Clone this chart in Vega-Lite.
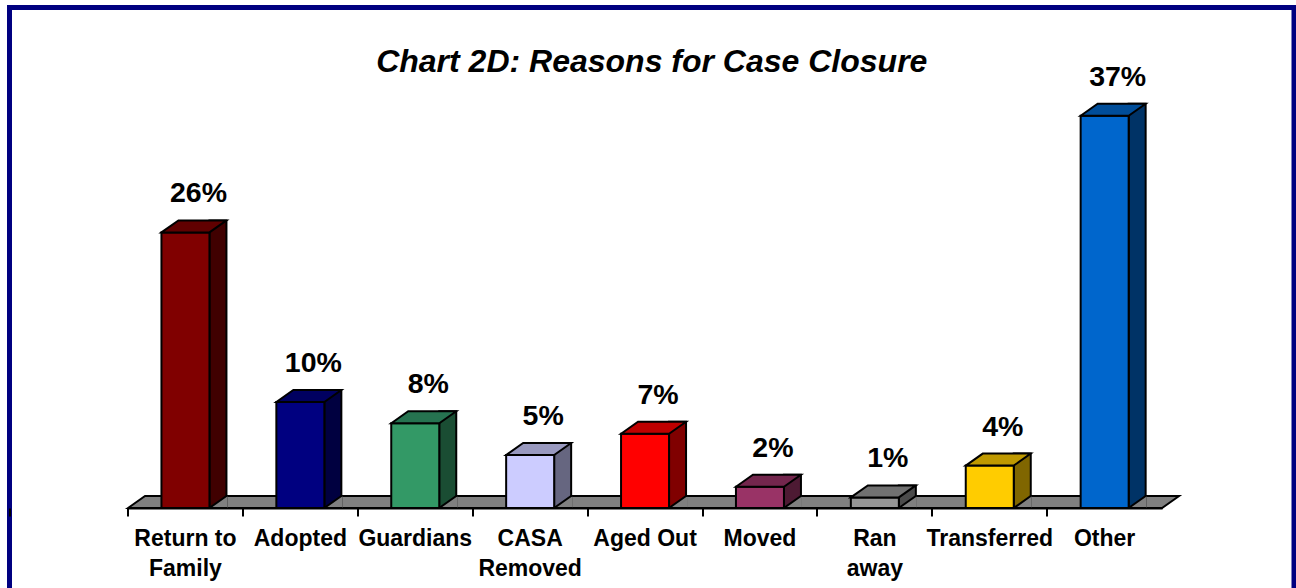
{
  "$schema": "https://vega.github.io/schema/vega-lite/v6.json",
  "width": 1284.5,
  "height": 580.5,
  "autosize": {"type": "none"},
  "padding": {"left": 9.5, "top": 7.5, "right": 2, "bottom": 0},
  "background": "white",
  "config": {
    "view": {"stroke": "#000080", "strokeWidth": 5, "strokeDash": [1865, 1284.5, 620, 0]}
  },
  "title": {
    "text": "Chart 2D: Reasons for Case Closure",
    "font": "Liberation Sans",
    "fontSize": 32,
    "fontStyle": "italic",
    "fontWeight": "bold",
    "color": "black",
    "anchor": "middle",
    "frame": "group",
    "baseline": "alphabetic",
    "offset": -96.5
  },
  "data": {
    "values": [
      {"reason": "Return to Family", "pct": 0.26},
      {"reason": "Adopted", "pct": 0.10},
      {"reason": "Guardians", "pct": 0.08},
      {"reason": "CASA Removed", "pct": 0.05},
      {"reason": "Aged Out", "pct": 0.07},
      {"reason": "Moved", "pct": 0.02},
      {"reason": "Ran away", "pct": 0.01},
      {"reason": "Transferred", "pct": 0.04},
      {"reason": "Other", "pct": 0.37}
    ]
  },
  "layer": [
    {
      "transform": [{"filter": "datum.reason == 'Aged Out'"}],
      "mark": {"type": "point", "shape": "M -517 0 L -500 -12 L 534 -12 L 517 0 Z", "size": 4, "filled": true, "fill": "#808080", "stroke": "black", "strokeWidth": 2, "opacity": 1},
      "encoding": {
        "x": {
          "field": "reason", "type": "nominal", "sort": null,
          "scale": {"domain": ["Return to Family", "Adopted", "Guardians", "CASA Removed", "Aged Out", "Moved", "Ran away", "Transferred", "Other"], "range": [118.5, 1152.6], "paddingInner": 0, "paddingOuter": 0},
          "axis": {"orient": "bottom", "offset": -80, "bandPosition": 0, "tickExtra": true, "ticks": true, "tickSize": 8, "tickWidth": 2, "tickColor": "black", "domain": true, "domainColor": "black", "domainWidth": 2, "labels": false, "grid": false, "title": null}
        },
        "y": {"datum": 0, "type": "quantitative", "scale": {"domain": [-0.075472, 0.47217], "nice": false, "zero": false}, "axis": null}
      }
    },
    {
      "mark": {"type": "bar", "width": 17, "xOffset": 32.5, "yOffset": -12, "stroke": "black", "strokeWidth": 2},
      "encoding": {
        "x": {"field": "reason", "type": "nominal", "sort": null, "axis": null},
        "y": {"field": "pct", "type": "quantitative", "axis": null},
        "y2": {"datum": 0},
        "color": {
          "field": "reason", "type": "nominal", "legend": null,
          "scale": {"domain": ["Return to Family", "Adopted", "Guardians", "CASA Removed", "Aged Out", "Moved", "Ran away", "Transferred", "Other"], "range": ["#400000", "#000040", "#1A4D33", "#666680", "#800000", "#4D1A33", "#4B4B4B", "#806600", "#003366"]}
        }
      }
    },
    {
      "mark": {"type": "point", "shape": "M 42 -12 L 41 -12 L 24 0 L 42 0", "size": 4, "filled": true, "fill": "#808080", "stroke": "black", "strokeWidth": 2, "opacity": 1},
      "encoding": {
        "x": {"field": "reason", "type": "nominal", "sort": null, "axis": null},
        "y": {"datum": 0, "type": "quantitative", "axis": null}
      }
    },
    {
      "mark": {"type": "bar", "width": 48, "stroke": "black", "strokeWidth": 2},
      "encoding": {
        "x": {
          "field": "reason", "type": "nominal", "sort": null,
          "axis": {"orient": "bottom", "offset": -80, "ticks": false, "tickSize": 0, "domain": false, "labels": true, "labelPadding": 19, "labelFont": "Liberation Sans", "labelFontSize": 23, "labelFontWeight": "bold", "labelColor": "black", "labelLineHeight": 30, "labelAngle": 0, "labelLimit": 300, "labelOverlap": false, "grid": false, "title": null,
            "labelExpr": "datum.value == 'Return to Family' ? ['Return to', 'Family'] : datum.value == 'CASA Removed' ? ['CASA', 'Removed'] : datum.value == 'Ran away' ? ['Ran', 'away'] : datum.label"}
        },
        "y": {"field": "pct", "type": "quantitative", "axis": null},
        "y2": {"datum": 0},
        "color": {
          "field": "reason", "type": "nominal", "legend": null,
          "scale": {"domain": ["Return to Family", "Adopted", "Guardians", "CASA Removed", "Aged Out", "Moved", "Ran away", "Transferred", "Other"], "range": ["#800000", "#000080", "#339966", "#CCCCFF", "#FF0000", "#993366", "#969696", "#FFCC00", "#0066CC"]}
        }
      }
    },
    {
      "mark": {"type": "point", "shape": "M -24 0 L -7 -12 L 41 -12 L 24 0 Z", "size": 4, "filled": true, "stroke": "black", "strokeWidth": 2, "opacity": 1},
      "encoding": {
        "x": {"field": "reason", "type": "nominal", "sort": null, "axis": null},
        "y": {"field": "pct", "type": "quantitative", "axis": null},
        "color": {
          "field": "reason", "type": "nominal", "legend": null,
          "scale": {"domain": ["Return to Family", "Adopted", "Guardians", "CASA Removed", "Aged Out", "Moved", "Ran away", "Transferred", "Other"], "range": ["#600000", "#000060", "#267350", "#9999BF", "#BF0000", "#73264D", "#717171", "#BF9900", "#004D99"]}
        }
      }
    },
    {
      "mark": {"type": "text", "dx": 13, "dy": -30, "baseline": "alphabetic", "align": "center", "font": "Liberation Sans", "fontSize": 28.5, "fontWeight": "bold", "color": "black"},
      "encoding": {
        "x": {"field": "reason", "type": "nominal", "sort": null, "axis": null},
        "y": {"field": "pct", "type": "quantitative", "axis": null},
        "text": {"field": "pct", "type": "quantitative", "format": ".0%"}
      }
    }
  ],
  "resolve": {"scale": {"color": "independent"}, "axis": {"x": "independent"}}
}
